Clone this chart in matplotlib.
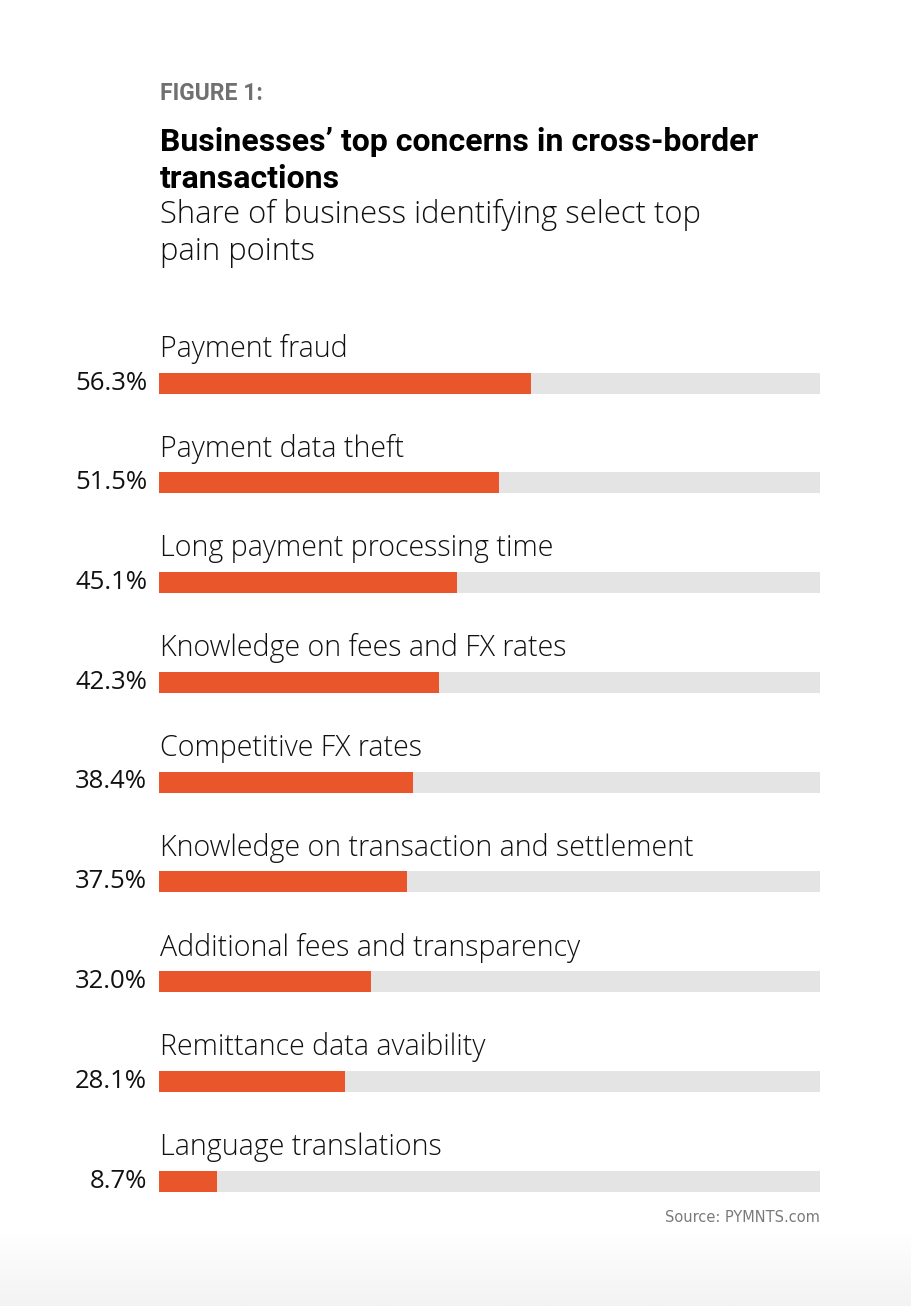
import matplotlib
matplotlib.use("Agg")
import matplotlib.pyplot as plt
from matplotlib.colors import LinearSegmentedColormap
import numpy as np

categories = [
    "Payment fraud",
    "Payment data theft",
    "Long payment processing time",
    "Knowledge on fees and FX rates",
    "Competitive FX rates",
    "Knowledge on transaction and settlement",
    "Additional fees and transparency",
    "Remittance data avaibility",
    "Language translations",
]
shares = [56.3, 51.5, 45.1, 42.3, 38.4, 37.5, 32.0, 28.1, 8.7]

ORANGE = "#EA562B"
TRACK = "#E4E4E4"
LABEL_FONT = "Open Sans"

W, H = 911, 1306
fig = plt.figure(figsize=(W / 100, H / 100), dpi=100)
fig.patch.set_facecolor("white")

# faint shadow at the very bottom of the page
shade = LinearSegmentedColormap.from_list("shade", ["#f3f3f3", "#ffffff"])
grad = fig.add_axes([0, 0, 1, 75 / H])
grad.imshow(np.linspace(1.0, 0.0, 64).reshape(-1, 1), cmap=shade, vmin=0, vmax=1,
            aspect="auto", extent=(0, 1, 0, 1))
grad.axis("off")

row_px = 99.75
top_px = 383 - 0.6 * row_px
bot_px = 1181 + 0.2 * row_px
ax = fig.add_axes([159 / W, 1 - bot_px / H, (820 - 159) / W, (bot_px - top_px) / H])
ax.set_xlim(0, 100)
ax.set_ylim(8.2, -0.6)
ax.axis("off")

ypos = np.arange(len(categories))
bar_h = 21 / row_px
ax.barh(ypos, [100] * len(categories), height=bar_h, color=TRACK, linewidth=0)
ax.barh(ypos, shares, height=bar_h, color=ORANGE, linewidth=0)

for y, cat, val in zip(ypos, categories, shares):
    ax.text(0.1, y - 0.34, cat, ha="left", va="center", fontsize=20.6,
            family=LABEL_FONT, fontweight="light", color="#111111")
    ax.text(-1.8, y, f"{val:.1f}%", ha="right", va="center", fontsize=18.5,
            family=LABEL_FONT, fontweight="normal", color="#111111")

fig.text(160 / W, 1 - 94 / H, "FIGURE 1:", ha="left", va="center", fontsize=16.5,
         family="Roboto", fontweight="bold", color="#707070")
fig.text(160 / W, 1 - 142 / H, "Businesses\u2019 top concerns in cross-border",
         ha="left", va="center", fontsize=23, family="Roboto", fontweight="bold",
         color="black")
fig.text(160 / W, 1 - 179 / H, "transactions", ha="left", va="center", fontsize=23,
         family="Roboto", fontweight="bold", color="black")
fig.text(160 / W, 1 - 215 / H, "Share of business identifying select top",
         ha="left", va="center", fontsize=22.3, family=LABEL_FONT, fontweight="light",
         color="#111111")
fig.text(160 / W, 1 - 252 / H, "pain points", ha="left", va="center", fontsize=22.3,
         family=LABEL_FONT, fontweight="light", color="#111111")

fig.text(820 / W, 1 - 1217 / H, "Source: PYMNTS.com", ha="right", va="center",
         fontsize=10.5, family="DejaVu Sans", color="#7a7a7a")

fig.savefig("out.png", dpi=100, facecolor="white")
